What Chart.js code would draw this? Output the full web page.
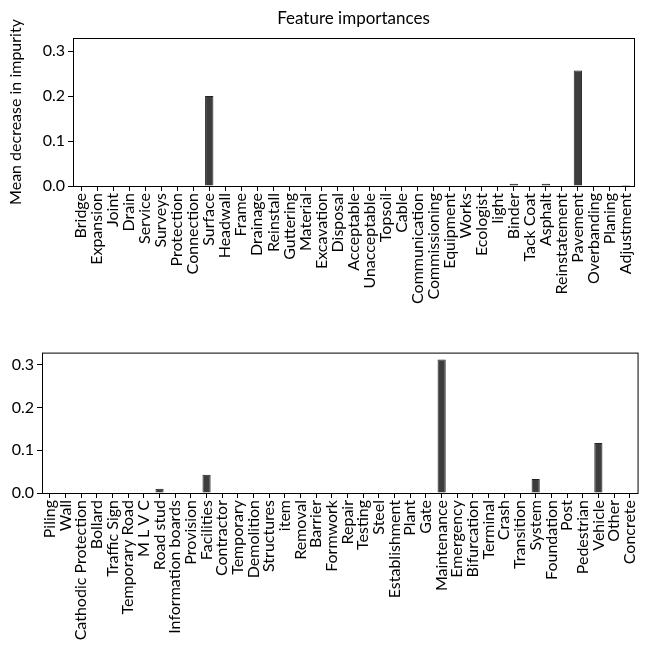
<!DOCTYPE html>
<html>
<head>
<meta charset="utf-8">
<script src="https://cdn.jsdelivr.net/npm/chart.js@4"></script>
<style>
  body { margin: 0; background: #fff; }
  .box { position: absolute; left: 0; width: 651px; }
  #topBox { top: 0; height: 340px; }
  #bottomBox { top: 340px; height: 310px; }
</style>
</head>
<body>
<div class="box" id="topBox"><canvas id="topChart"></canvas></div>
<div class="box" id="bottomBox"><canvas id="bottomChart"></canvas></div>
<script>
const topLabels = ['Bridge', 'Expansion', 'Joint', 'Drain', 'Service', 'Surveys', 'Protection', 'Connection',
    'Surface', 'Headwall', 'Frame', 'Drainage', 'Reinstall', 'Guttering', 'Material', 'Excavation',
    'Disposal', 'Acceptable', 'Unacceptable', 'Topsoil', 'Cable', 'Communication', 'Commissioning',
    'Equipment', 'Works', 'Ecologist', 'light', 'Binder', 'Tack Coat', 'Asphalt', 'Reinstatement',
    'Pavement', 'Overbanding', 'Planing', 'Adjustment'];
const topValues = [0, 0, 0, 0, 0, 0, 0, 0,
    0.2, 0, 0, 0, 0, 0, 0, 0,
    0, 0, 0, 0, 0, 0, 0,
    0, 0, 0, 0, 0.005, 0, 0.005, 0,
    0.257, 0, 0, 0.002];

const bottomLabels = ['Piling', 'Wall', 'Cathodic Protection', 'Bollard', 'Traffic Sign', 'Temporary Road',
    'M L V C', 'Road stud', 'Information boards', 'Provision', 'Facilities', 'Contractor', 'Temporary',
    'Demolition', 'Structures', 'item', 'Removal', 'Barrier', 'Formwork', 'Repair', 'Testing', 'Steel',
    'Establishment', 'Plant', 'Gate', 'Maintenance', 'Emergency', 'Bifurcation', 'Terminal', 'Crash',
    'Transition', 'System', 'Foundation', 'Post', 'Pedestrian', 'Vehicle', 'Other', 'Concrete'];
const bottomValues = [0, 0, 0, 0, 0, 0,
    0, 0.01, 0, 0, 0.043, 0, 0,
    0, 0, 0, 0, 0, 0, 0, 0, 0,
    0, 0, 0, 0.313, 0, 0, 0, 0,
    0, 0.033, 0, 0, 0, 0.117, 0, 0];

const yMax = 0.329;
const titleText = 'Feature importances';
const yTitleText = 'Mean decrease in impurity';

const fontFamily = 'Lato, "DejaVu Sans", sans-serif';
Chart.defaults.font.family = fontFamily;
Chart.defaults.color = '#000';
Chart.defaults.animation = false;

// box around the plot area, like matplotlib spines
const frame = {
    id: 'frame',
    afterDraw(chart) {
        const a = chart.chartArea;
        const ctx = chart.ctx;
        ctx.save();
        ctx.strokeStyle = '#000';
        ctx.lineWidth = 1;
        ctx.strokeRect(a.left + 0.5, a.top + 0.5, a.right - a.left, a.bottom - a.top);
        ctx.restore();
    }
};

// title centred over the plot area, not the whole canvas
const axesTitle = {
    id: 'axesTitle',
    afterDraw(chart, args, opts) {
        if (!opts.text) return;
        const a = chart.chartArea;
        const ctx = chart.ctx;
        ctx.save();
        ctx.font = '17px ' + fontFamily;
        ctx.fillStyle = '#000';
        ctx.textAlign = 'center';
        ctx.textBaseline = 'middle';
        ctx.fillText(opts.text, (a.left + a.right) / 2, a.top - 19);
        ctx.restore();
    }
};

function makeChart(id, labels, values, opts) {
    return new Chart(document.getElementById(id), {
        type: 'bar',
        data: {
            labels: labels,
            datasets: [{
                data: values,
                backgroundColor: '#3d3d3d',
                borderColor: '#222',
                borderWidth: 1,
                barPercentage: 0.52,
                categoryPercentage: 1
            }]
        },
        options: {
            responsive: true,
            maintainAspectRatio: false,
            layout: { padding: opts.padding },
            plugins: {
                legend: { display: false },
                tooltip: { enabled: false },
                title: { display: false },
                axesTitle: { text: opts.title }
            },
            scales: {
                x: {
                    offset: true,
                    grid: { display: true, offset: false, drawOnChartArea: false, drawTicks: true, tickLength: 5, color: '#000' },
                    border: { display: false },
                    ticks: { autoSkip: false, maxRotation: 90, minRotation: 90, padding: 2, font: { size: 16 } },
                    afterFit: s => { s.height = opts.xHeight; }
                },
                y: {
                    min: 0,
                    max: yMax,
                    grid: { display: true, drawOnChartArea: false, drawTicks: true, tickLength: 5, color: '#000' },
                    border: { display: false },
                    ticks: { stepSize: 0.1, includeBounds: false, padding: 3, font: { size: 16 }, callback: v => v.toFixed(1) },
                    title: opts.yTitle,
                    afterFit: s => { s.width = opts.yWidth; }
                }
            }
        },
        plugins: [frame, axesTitle]
    });
}

makeChart('topChart', topLabels, topValues, {
    padding: { top: 38, right: 17, left: 0, bottom: 0 },
    title: titleText,
    yTitle: { display: true, text: yTitleText, font: { size: 16 }, padding: { top: 6, bottom: 0 } },
    xHeight: 154,
    yWidth: 73
});

makeChart('bottomChart', bottomLabels, bottomValues, {
    padding: { top: 6, right: 6, left: 0, bottom: 0 },
    title: '',
    yTitle: { display: false },
    xHeight: 157,
    yWidth: 42
});
</script>
</body>
</html>
